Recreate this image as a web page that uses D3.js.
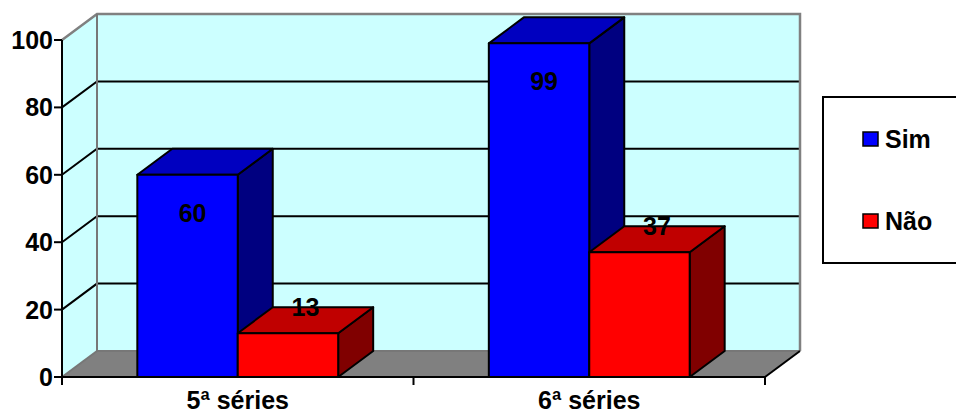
<!DOCTYPE html>
<html>
<head>
<meta charset="utf-8">
<script src="https://cdn.jsdelivr.net/npm/d3@7"></script>
<style>
  html, body { margin: 0; padding: 0; background: #ffffff; }
  svg { display: block; }
  text { font-family: "Liberation Sans", Arial, sans-serif; font-weight: bold; fill: #000; }
</style>
</head>
<body>
<svg id="chart" width="956" height="414"></svg>
<script>
// Respondents per grade
const categories = ["5ª séries", "6ª séries"];
const seriesNames = ["Sim", "Não"];
const simValues = [60, 99];
const naoValues = [13, 37];
const yTickValues = [0, 20, 40, 60, 80, 100];

const colors = {
  Sim: { front: "#0000ff", top: "#0000c0", side: "#000080" },
  "Não": { front: "#ff0000", top: "#c00000", side: "#800000" }
};

const svg = d3.select("#chart");

// front plane of the plot
const plotLeft = 62, plotRight = 765, plotBottom = 377, plotTop = 40;
// 3D depth offset
const dx = 35, dy = -26;

const y = d3.scaleLinear().domain([0, 100]).range([plotBottom, plotTop]);
const x = d3.scaleBand().domain(categories).range([plotLeft, plotRight]).padding(0);
const slot = x.bandwidth();
const barW = slot / 3.5;           // gap width 150%
const xs = d3.scaleBand().domain(seriesNames).range([0, 2 * barW]).padding(0);

const wallCyan = "#ccffff", floorGrey = "#808080", edgeGrey = "#808080";
const line = d3.line();

// side wall
svg.append("path")
  .attr("d", line([[plotLeft, y(0)], [plotLeft, y(100)], [plotLeft + dx, y(100) + dy], [plotLeft + dx, y(0) + dy]]) + "Z")
  .attr("fill", wallCyan);
// back wall
svg.append("rect")
  .attr("x", plotLeft + dx).attr("y", y(100) + dy)
  .attr("width", plotRight - plotLeft).attr("height", y(0) - y(100))
  .attr("fill", wallCyan);
// floor
svg.append("path")
  .attr("d", line([[plotLeft, y(0)], [plotRight, y(0)], [plotRight + dx, y(0) + dy], [plotLeft + dx, y(0) + dy]]) + "Z")
  .attr("fill", floorGrey);

// gridlines on back and side walls
const gridVals = yTickValues.filter(v => v > 0 && v < 100);
svg.append("g").selectAll("path").data(gridVals).join("path")
  .attr("d", v => line([[plotLeft, y(v)], [plotLeft + dx, y(v) + dy], [plotRight + dx, y(v) + dy]]))
  .attr("fill", "none").attr("stroke", "#000").attr("stroke-width", 2);

// wall edges
svg.append("path")
  .attr("d", line([[plotLeft, y(100)], [plotLeft + dx, y(100) + dy], [plotRight + dx, y(100) + dy], [plotRight + dx, y(0) + dy]]))
  .attr("fill", "none").attr("stroke", edgeGrey).attr("stroke-width", 2.5);
svg.append("path")
  .attr("d", line([[plotLeft + dx, y(100) + dy], [plotLeft + dx, y(0) + dy], [plotRight + dx, y(0) + dy]]))
  .attr("fill", "none").attr("stroke", "#777").attr("stroke-width", 2);
svg.append("path")
  .attr("d", line([[plotLeft, y(0)], [plotLeft + dx, y(0) + dy]]))
  .attr("fill", "none").attr("stroke", "#777").attr("stroke-width", 2);
svg.append("path")
  .attr("d", line([[plotRight, y(0)], [plotRight + dx, y(0) + dy]]))
  .attr("fill", "none").attr("stroke", "#000").attr("stroke-width", 2);

// bars
const bars = [];
categories.forEach((c, i) => {
  const base = x(c) + (slot - 2 * barW) / 2;
  bars.push({ s: "Sim", v: simValues[i], x0: base + xs("Sim") });
  bars.push({ s: "Não", v: naoValues[i], x0: base + xs("Não") });
});
// blue first, red drawn over
const order = bars.filter(b => b.s === "Sim").concat(bars.filter(b => b.s === "Não"));
const gBars = svg.append("g");
order.forEach(b => {
  const x0 = b.x0, x1 = b.x0 + xs.bandwidth();
  const yt = y(b.v), yb = y(0);
  const g = gBars.append("g")
    .attr("stroke", "#000").attr("stroke-width", 2).attr("stroke-linejoin", "round");
  g.append("path")
    .attr("d", line([[x1, yb], [x1, yt], [x1 + dx, yt + dy], [x1 + dx, yb + dy]]) + "Z")
    .attr("fill", colors[b.s].side);
  g.append("path")
    .attr("d", line([[x0, yt], [x0 + dx, yt + dy], [x1 + dx, yt + dy], [x1, yt]]) + "Z")
    .attr("fill", colors[b.s].top);
  g.append("rect")
    .attr("x", x0).attr("y", yt).attr("width", x1 - x0).attr("height", yb - yt)
    .attr("fill", colors[b.s].front);
});

// axis lines
svg.append("line").attr("x1", plotLeft).attr("x2", plotLeft).attr("y1", y(100)).attr("y2", y(0) + 1)
  .attr("stroke", "#000").attr("stroke-width", 2);
svg.append("line").attr("x1", plotLeft).attr("x2", plotRight).attr("y1", y(0)).attr("y2", y(0))
  .attr("stroke", "#000").attr("stroke-width", 2);

// y ticks and labels
const yAxis = svg.append("g");
yAxis.selectAll("line").data(yTickValues).join("line")
  .attr("x1", plotLeft - 8).attr("x2", plotLeft).attr("y1", d => y(d)).attr("y2", d => y(d))
  .attr("stroke", "#000").attr("stroke-width", 2);
yAxis.selectAll("text").data(yTickValues).join("text")
  .attr("x", plotLeft - 9).attr("y", d => y(d)).attr("dy", "0.36em")
  .attr("text-anchor", "end").attr("font-size", 25).text(d => d);

// x ticks at category boundaries
const xEdges = categories.map(c => x(c)).concat([x(categories[categories.length - 1]) + slot]);
svg.append("g").selectAll("line").data(xEdges).join("line")
  .attr("x1", d => d).attr("x2", d => d).attr("y1", y(0)).attr("y2", y(0) + 8)
  .attr("stroke", "#000").attr("stroke-width", 2);
svg.append("g").selectAll("text").data(categories).join("text")
  .attr("x", d => x(d) + slot / 2).attr("y", 409)
  .attr("text-anchor", "middle").attr("font-size", 25).text(d => d);

// value labels
const gLab = svg.append("g");
order.forEach(b => {
  const cx = b.x0 + xs.bandwidth() / 2;
  if (b.s === "Sim") {
    gLab.append("text").attr("x", cx + 5).attr("y", y(b.v) + 38).attr("dy", "0.36em")
      .attr("text-anchor", "middle").attr("font-size", 25).text(b.v);
  } else {
    gLab.append("text").attr("x", cx + dx / 2).attr("y", y(b.v) + dy / 2 - 13).attr("dy", "0.36em")
      .attr("text-anchor", "middle").attr("font-size", 25).text(b.v);
  }
});

// legend
const leg = svg.append("g");
leg.append("rect").attr("x", 823).attr("y", 97).attr("width", 150).attr("height", 166)
  .attr("fill", "#fff").attr("stroke", "#000").attr("stroke-width", 2);
const legY = [139, 221];
seriesNames.forEach((s, i) => {
  leg.append("rect").attr("x", 863).attr("y", legY[i] - 7).attr("width", 15).attr("height", 14)
    .attr("fill", colors[s].front).attr("stroke", "#000").attr("stroke-width", 1.5);
  leg.append("text").attr("x", 885).attr("y", legY[i]).attr("dy", "0.36em")
    .attr("font-size", 25).text(s);
});
</script>
</body>
</html>
